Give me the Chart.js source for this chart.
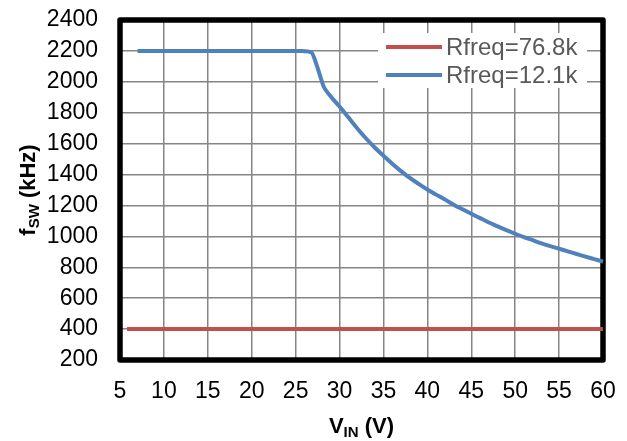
<!DOCTYPE html>
<html>
<head>
<meta charset="utf-8">
<script src="https://cdn.jsdelivr.net/npm/chart.js@4"></script>
<style>
html,body{margin:0;padding:0;background:#fff;}
#wrap{width:627px;height:441px;position:relative;}
</style>
</head>
<body>
<div id="wrap"><canvas id="c" width="627" height="441"></canvas></div>
<script>
// ---- data ----
const vinRed = [5.8, 10, 20, 30, 40, 50, 60];
const fswRed = [400, 400, 400, 400, 400, 400, 400];

const vinBlue = [7, 10, 15, 20, 25, 26, 26.8, 27.4, 28, 28.2, 29, 30, 31, 32, 33, 34, 35, 36, 37, 38, 39, 40, 41, 42, 43, 44, 45, 46, 47, 48, 49, 50, 51, 52, 53, 54, 55, 56, 57, 58, 59, 60];
const fswBlue = [2200, 2200, 2200, 2200, 2200, 2198, 2190, 2107, 2000, 1968, 1905, 1840, 1770, 1700, 1635, 1575, 1522, 1470, 1422, 1378, 1340, 1303, 1270, 1238, 1205, 1175, 1146, 1118, 1090, 1065, 1040, 1017, 995, 975, 955, 937, 920, 903, 886, 869, 853, 837];

const seriesLabels = ['Rfreq=76.8k', 'Rfreq=12.1k'];
const seriesColors = ['#C0504D', '#4F81BD'];

const xMin = 5, xMax = 60, xStep = 5;
const yMin = 200, yMax = 2400, yStep = 200;

const FONT = '"Liberation Sans", Arial, Helvetica, sans-serif';

function pts(xs, ys) { return xs.map((x, i) => ({x: x, y: ys[i]})); }

// border + legend + titles
const decor = {
  id: 'decor',
  beforeDatasetsDraw(chart) {
    const {ctx, chartArea: a} = chart;
    ctx.save();
    ctx.strokeStyle = '#000';
    ctx.lineWidth = 5.5;
    ctx.lineJoin = 'round';
    ctx.strokeRect(a.left, a.top, a.right - a.left, a.bottom - a.top);
    ctx.restore();
  },
  afterDatasetsDraw(chart) {
    const ctx = chart.ctx;
    ctx.save();
    // legend
    ctx.fillStyle = '#fff';
    ctx.fillRect(378, 33, 209, 55);
    const ds = chart.data.datasets;
    const rows = [47, 75];
    ds.forEach((d, i) => {
      ctx.strokeStyle = d.borderColor;
      ctx.lineWidth = 4;
      ctx.beginPath();
      ctx.moveTo(386, rows[i]);
      ctx.lineTo(442, rows[i]);
      ctx.stroke();
      ctx.fillStyle = '#595959';
      ctx.font = '24px ' + FONT;
      ctx.textBaseline = 'middle';
      ctx.textAlign = 'left';
      ctx.fillText(d.label, 446, rows[i] + 1);
    });

    // axis titles with subscripts
    const big = 'bold 22px ' + FONT, small = 'bold 15px ' + FONT;
    const xParts = [['V', big, 0], ['IN', small, 4], [' (V)', big, 0]];
    const yParts = [['f', big, 0], ['SW', small, 4], [' (kHz)', big, 0]];
    function widthOf(parts) {
      let w = 0;
      parts.forEach(p => { ctx.font = p[1]; w += ctx.measureText(p[0]).width; });
      return w;
    }
    function drawParts(parts, cx, by) {
      let x = cx - widthOf(parts) / 2;
      ctx.textAlign = 'left';
      ctx.textBaseline = 'alphabetic';
      ctx.fillStyle = '#000';
      parts.forEach(p => {
        ctx.font = p[1];
        ctx.fillText(p[0], x, by + p[2]);
        x += ctx.measureText(p[0]).width;
      });
    }
    const a = chart.chartArea;
    drawParts(xParts, (a.left + a.right) / 2, 433);
    ctx.save();
    ctx.translate(35, (a.top + a.bottom) / 2);
    ctx.rotate(-Math.PI / 2);
    drawParts(yParts, 0, 0);
    ctx.restore();
    ctx.restore();
  }
};

new Chart(document.getElementById('c'), {
  type: 'line',
  data: {
    datasets: [
      {label: seriesLabels[0], data: pts(vinRed, fswRed), borderColor: seriesColors[0], backgroundColor: seriesColors[0], borderWidth: 4, pointRadius: 0, tension: 0, clip: false},
      {label: seriesLabels[1], data: pts(vinBlue, fswBlue), borderColor: seriesColors[1], backgroundColor: seriesColors[1], borderWidth: 4, pointRadius: 0, tension: 0.3, cubicInterpolationMode: 'monotone', clip: false}
    ]
  },
  options: {
    responsive: false,
    animation: false,
    devicePixelRatio: 1,
    layout: {padding: {top: 20, right: 24, left: 0, bottom: 0}},
    plugins: {legend: {display: false}, tooltip: {enabled: false}},
    scales: {
      x: {
        type: 'linear', min: xMin, max: xMax,
        afterFit(s) { s.height = 81; s.paddingLeft = 0; s.paddingRight = 0; },
        border: {display: false},
        grid: {color: '#858585', lineWidth: 1.5, drawTicks: false},
        ticks: {stepSize: xStep, autoSkip: false, padding: 18, color: '#000', font: {family: FONT, size: 23}, callback: v => String(v)}
      },
      y: {
        type: 'linear', min: yMin, max: yMax,
        afterFit(s) { s.width = 120; s.paddingTop = 0; s.paddingBottom = 0; },
        border: {display: false},
        grid: {color: '#858585', lineWidth: 1.5, drawTicks: false},
        ticks: {stepSize: yStep, autoSkip: false, padding: 22, color: '#000', font: {family: FONT, size: 23}, callback: v => String(v)}
      }
    }
  },
  plugins: [decor]
});
</script>
</body>
</html>
